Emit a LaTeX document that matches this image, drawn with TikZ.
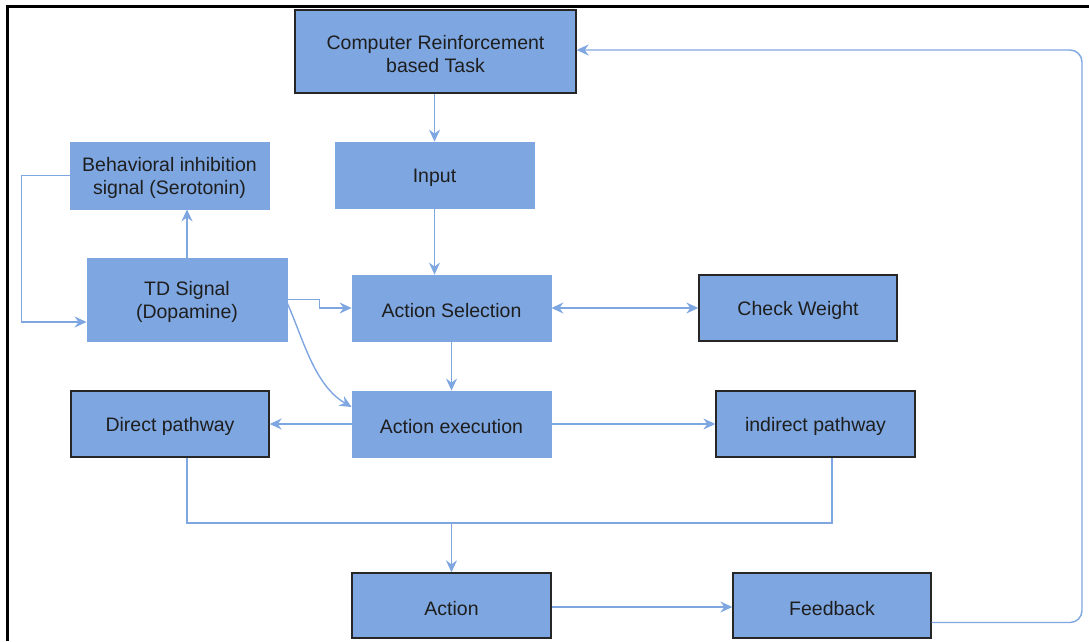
\documentclass[tikz,border=0pt]{standalone}
\usepackage{fontspec}
\setmainfont{Liberation Sans}
\usetikzlibrary{arrows.meta,calc}
\definecolor{boxblue}{HTML}{7EA6E0}
\definecolor{linkblue}{HTML}{7EA6E0}
\definecolor{txt}{HTML}{1E1E1E}
% extra head room so the first line sits a little lower in its box
\newcommand{\headroom}{\rule{0pt}{20pt}}
\begin{document}
\begin{tikzpicture}[x=1pt,y=-1pt,
  block/.style={rectangle, fill=boxblue, draw=boxblue, line width=0.8pt,
    inner sep=0pt, align=center, text=txt,
    font=\fontsize{19.5}{23}\selectfont},
  framed/.style={block, draw=black!85, line width=1.3pt},
  link/.style={draw=linkblue, line width=1.4pt,
    -{Stealth[length=12pt,width=11pt,inset=4pt]}},
  plain/.style={draw=linkblue, line width=1.4pt}]
\useasboundingbox (0,0) rectangle (1089,641);

% frame edges
\draw[black, line width=2.2pt] (7.5,641) -- (7.5,6.5) -- (1089,6.5);

% blocks
\node[framed, minimum width=281pt, minimum height=83pt] (task) at (435.5,51.5)
  {\headroom Computer Reinforcement\\based Task};
\node[block, minimum width=199pt, minimum height=66pt] (input) at (434.5,175) {\headroom Input};
\node[block, minimum width=199pt, minimum height=67pt] (inhib) at (169.5,175.5)
  {\headroom Behavioral inhibition\\signal (Serotonin)};
\node[block, minimum width=200pt, minimum height=83pt] (td) at (187,299.5)
  {\headroom TD Signal\\(Dopamine)};
\node[block, minimum width=199pt, minimum height=66pt] (sel) at (451.5,308) {\headroom Action Selection};
\node[framed, minimum width=198pt, minimum height=66pt] (weight) at (798,308) {\headroom Check Weight};
\node[framed, minimum width=198pt, minimum height=66pt] (direct) at (170,424) {\headroom Direct pathway};
\node[block, minimum width=199pt, minimum height=66pt] (exec) at (451.5,424) {\headroom Action execution};
\node[framed, minimum width=199pt, minimum height=66pt] (indirect) at (815.5,424) {\headroom indirect pathway};
\node[framed, minimum width=199pt, minimum height=65pt] (act) at (451.5,605.5) {\headroom Action};
\node[framed, minimum width=198pt, minimum height=65pt] (fb) at (832,605.5) {\headroom Feedback};

% connectors
\draw[link] (input.north |- task.south) -- (input.north);
\draw[link] (input.south) -- (input.south |- sel.north);
\draw[link] (td.north) -- (td.north |- inhib.south);
\coordinate (tdin) at ($(td.west)+(0,22.5)$);
\draw[link] (inhib.west) -- ++(-48,0) |- (tdin);
\draw[link] (td.east) -- ++(32,0) |- (sel.west);
\coordinate (execin) at ($(exec.west)+(0,-17)$);
\draw[link] ($(td.east)+(0,4)$) .. controls (303,338) and (314,385) .. (execin);
\draw[link, {Stealth[length=12pt,width=11pt,inset=4pt]}-{Stealth[length=12pt,width=11pt,inset=4pt]}]
  (sel.east) -- (weight.west);
\draw[link] (sel.south) -- (exec.north);
\draw[link] (exec.west) -- (direct.east);
\draw[link] (exec.east) -- (indirect.west);
\coordinate (dout) at ($(direct.south)+(17,0)$);
\coordinate (iout) at ($(indirect.south)+(16.5,0)$);
\coordinate (merge) at (act.north |- 0,523);
\draw[plain] (dout) |- (merge) -| (iout);
\draw[link] (merge) -- (act.north);
\draw[link] (act.east |- 0,607) -- (fb.west |- 0,607);
\coordinate (fbout) at ($(fb.east)+(0,17)$);
\draw[link, rounded corners=12pt] (fbout) -- (1082,622.5) -- (1082,50) -- (task.east |- 0,50);
\end{tikzpicture}
\end{document}
